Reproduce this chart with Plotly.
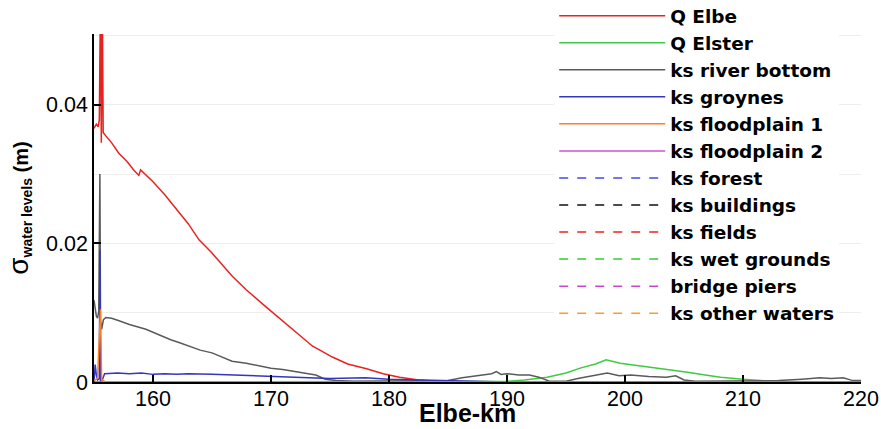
import plotly.graph_objects as go

# ---------------- data ----------------
elbe_km = [155.0, 155.2, 155.35, 155.45, 155.55, 155.62, 155.7, 155.78, 156.0, 156.5, 157.1, 157.8,
           158.4, 158.8, 158.95, 159.2, 160.0, 161.0, 162.2, 163.0, 163.9, 165.0, 166.7, 167.9,
           169.6, 170.7, 172.4, 173.5, 175.2, 176.5, 178.1, 179.5, 180.9, 182.5, 184.0, 186.0, 200.0, 220.0]
elbe_val = [0.0366, 0.0372, 0.0368, 0.0378, 0.0560, 0.0345, 0.0560, 0.0360, 0.0355, 0.0345, 0.0330, 0.0318,
            0.0305, 0.0298, 0.0306, 0.0302, 0.0289, 0.0270, 0.0245, 0.0228, 0.0205, 0.0186, 0.0153, 0.0133,
            0.0108, 0.0092, 0.0067, 0.0052, 0.0036, 0.0026, 0.0019, 0.0012, 0.0007, 0.0003, 0.0001, 0.0, 0.0, 0.0]

elster_km = [155.0, 188.0, 190.0, 191.5, 193.4, 195.0, 196.2, 197.5, 198.4, 199.6, 201.0, 202.4,
             204.0, 205.3, 206.8, 208.1, 210.0, 212.3, 216.0, 220.0]
elster_val = [0.0, 0.0, 0.0001, 0.0003, 0.0007, 0.0013, 0.0020, 0.0026, 0.0032, 0.0027, 0.0024, 0.0021,
              0.0017, 0.0014, 0.0010, 0.0007, 0.0004, 0.0001, 0.0, 0.0]

bottom_km = [155.0, 155.1, 155.2, 155.3, 155.4, 155.5, 155.55, 155.65, 155.8, 156.0, 156.5, 157.0,
             158.0, 159.4, 160.5, 161.5, 162.2, 163.0, 164.0, 165.0, 166.0, 166.7, 167.9, 169.0,
             170.0, 171.0, 172.4, 173.0, 173.8, 174.6, 175.5, 177.0, 180.0, 183.0, 185.0, 186.2,
             187.0, 188.0, 188.7, 189.1, 189.5, 190.0, 191.0, 191.9, 192.7, 193.6, 195.0, 196.0,
             197.0, 198.5, 199.5, 200.5, 202.0, 203.5, 204.3, 205.0, 206.0, 210.0, 213.0, 215.0,
             216.5, 217.5, 218.5, 219.3, 220.0]
bottom_val = [0.0118, 0.0105, 0.0095, 0.0092, 0.0102, 0.0300, 0.0090, 0.0076, 0.0090, 0.0093, 0.0092, 0.0089,
              0.0083, 0.0076, 0.0068, 0.0061, 0.0057, 0.0052, 0.0046, 0.0042, 0.0035, 0.0030, 0.0027, 0.0023,
              0.0020, 0.0018, 0.0014, 0.0013, 0.0010, 0.0004, 0.0002, 0.0001, 0.0001, 0.0002, 0.0002, 0.0006,
              0.0008, 0.0010, 0.0012, 0.0015, 0.0011, 0.0012, 0.0010, 0.0010, 0.0007, 0.0001, 0.0001, 0.0005,
              0.0008, 0.0013, 0.0009, 0.0010, 0.0008, 0.0007, 0.0009, 0.0003, 0.0001, 0.0001, 0.0002, 0.0004,
              0.0006, 0.0005, 0.0006, 0.0002, 0.0002]

groynes_km = [155.0, 155.1, 155.2, 155.3, 155.45, 155.5, 155.55, 155.7, 155.9, 157.0, 158.0, 159.0,
              160.0, 161.0, 162.0, 163.0, 165.0, 167.0, 170.0, 172.0, 175.0, 178.0, 180.0, 182.0,
              184.0, 186.0, 190.0, 220.0]
groynes_val = [0.0, 0.0025, 0.0010, 0.0003, 0.0005, 0.0190, 0.0002, 0.0003, 0.0012, 0.0013, 0.0012, 0.0013,
               0.0011, 0.0012, 0.0011, 0.0012, 0.0011, 0.0010, 0.0009, 0.0007, 0.0005, 0.0006, 0.0004, 0.0003,
               0.0002, 0.0001, 0.0, 0.0]

fp1_km = [155.0, 155.3, 155.55, 155.65, 156.0, 220.0]
fp1_val = [0.0002, 0.0005, 0.0105, 0.0003, 0.0, 0.0]

zero_km = [155.0, 220.0]
zero_val = [0.0, 0.0]

series_names = ["Q Elbe", "Q Elster", "ks river bottom", "ks groynes", "ks floodplain 1",
                "ks floodplain 2", "ks forest", "ks buildings", "ks fields", "ks wet grounds",
                "bridge piers", "ks other waters"]
series_x = [elbe_km, elster_km, bottom_km, groynes_km, fp1_km,
            zero_km, zero_km, zero_km, zero_km, zero_km, zero_km, zero_km]
series_y = [elbe_val, elster_val, bottom_val, groynes_val, fp1_val,
            zero_val, zero_val, zero_val, zero_val, zero_val, zero_val, zero_val]
series_colors = ["#e8231f", "#3fcb3f", "#5a5a5a", "#3535c0", "#ff7f24",
                 "#cc55cc", "#4a4ae0", "#111111", "#ee2222", "#33cc33", "#cc44cc", "#ff9933"]
series_dash = ["solid"] * 6 + ["dash"] * 6

x_ticks = [160, 170, 180, 190, 200, 210, 220]
x_tick_text = ["160", "170", "180", "190", "200", "210", "220"]
y_ticks = [0, 0.02, 0.04]
y_tick_text = ["0", "0.02", "0.04"]
x_title = "Elbe-km"

# ---------------- figure ----------------
fig = go.Figure()
# draw zero-level series first so the visible lines sit on top
order = list(range(5, 12)) + [0, 1, 2, 3, 4]
for i in order:
    fig.add_trace(go.Scatter(
        x=series_x[i], y=series_y[i], mode="lines", name=series_names[i],
        line=dict(color=series_colors[i], width=1.5, dash=series_dash[i]),
        legendrank=i + 1,
    ))

sans = "Liberation Sans, Arial, Helvetica, sans-serif"

# x tick labels placed on the x data scale, just below the axis line
for v, t in zip(x_ticks, x_tick_text):
    fig.add_annotation(
        text=t, xref="x", yref="paper", x=v, y=-0.008, xanchor="center", yanchor="top",
        showarrow=False, font=dict(family=sans, size=21.5, color="black"),
    )

fig.add_annotation(
    text="<b>" + x_title + "</b>", xref="paper", yref="paper",
    x=0.487, y=-0.088, xanchor="center", yanchor="middle", showarrow=False,
    font=dict(family=sans, size=25, color="black"),
)

fig.update_layout(
    width=881, height=429,
    margin=dict(l=94, r=20, t=34, b=47, autoexpand=False),
    paper_bgcolor="white", plot_bgcolor="white",
    font=dict(family=sans, size=21, color="black"),
    showlegend=True,
    legend=dict(
        x=0.6, y=1.106, xanchor="left", yanchor="top",
        bgcolor="white", borderwidth=0,
        font=dict(family="DejaVu Sans", size=18.5, color="black", weight="bold"),
        itemwidth=106, tracegroupgap=0, maxheight=420,
        traceorder="normal",
    ),
    xaxis=dict(
        range=[155, 220], tickvals=x_ticks, ticks="inside", ticklen=7, tickwidth=1.5,
        tickcolor="black", showline=True, linecolor="black", linewidth=1.5,
        showgrid=False, zeroline=False, showticklabels=False,
    ),
    yaxis=dict(
        range=[0, 0.0502], tickvals=y_ticks, ticktext=y_tick_text, ticks="inside", ticklen=7,
        tickwidth=1.5, tickcolor="black", showline=True, linecolor="black", linewidth=1.5,
        showgrid=False, zeroline=False,
        tickfont=dict(size=21.5),
        title=dict(text="<span style='font-size:28px'>σ</span><sub><b>water levels</b></sub> <b>(m)</b>",
                   font=dict(size=20), standoff=12),
        minor=dict(dtick=0.01, tick0=0, showgrid=True, gridcolor="#eeeeee", gridwidth=1),
    ),
)

fig.write_html("out.html")
